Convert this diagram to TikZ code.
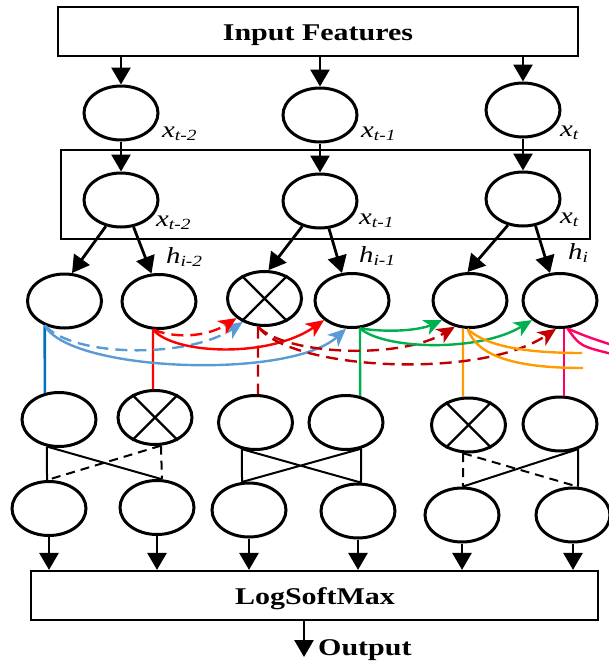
\documentclass[tikz,border=0pt]{standalone}
\usepackage{fontspec}
\setmainfont{Liberation Serif}
\newfontfamily\tms[FakeStretch=1.25]{Liberation Serif}
\usetikzlibrary{shapes.geometric,arrows.meta,calc}
\definecolor{bluev}{RGB}{0,112,192}
\definecolor{bluec}{RGB}{91,155,213}
\definecolor{redc}{RGB}{255,0,0}
\definecolor{dred}{RGB}{192,0,0}
\definecolor{greenc}{RGB}{0,176,80}
\definecolor{orangec}{RGB}{255,155,0}
\definecolor{pinkc}{RGB}{255,0,102}
\newcommand\subl[1]{\raisebox{-3pt}{\fontsize{15.5}{15.5}\selectfont #1}}
\begin{document}
\begin{tikzpicture}[x=1pt,y=-1pt,
  ell/.style={ellipse, draw, line width=3pt, minimum width=74pt, minimum height=54pt, inner sep=0pt},
  boxn/.style={draw, line width=2.2pt, inner sep=0pt},
  boxtxt/.style={font=\tms\fontsize{24}{24}\selectfont\bfseries, inner sep=0pt, anchor=base},
  lab/.style={font=\tms\fontsize{23}{23}\selectfont\itshape, inner sep=0pt, anchor=base west},
  arr/.style={line width=2.8pt, -{Triangle[length=17pt,width=19pt]}},
  carr/.style={line width=2.4pt, -{Stealth[length=18pt,width=16pt,inset=5pt]}},
  cl/.style={line width=2.4pt},
  dsh/.style={dash pattern=on 12pt off 7pt},
  crl/.style={line width=2pt},
  crd/.style={line width=2pt, dash pattern=on 9pt off 6pt},
  xl/.style={line width=2.2pt}
]
\useasboundingbox (0,0) rectangle (609,662);

% boxes
\node[boxn, minimum width=520pt, minimum height=49pt] (inp) at (318,31.5) {};
\node[boxtxt] (inpt) at (318,40.5) {Input Features};
\node[boxn, line width=2.6pt, minimum width=529pt, minimum height=89pt] (grp) at (325.3,194.5) {};
\node[boxn, minimum width=567pt, minimum height=49pt] (lsm) at (314.3,595.5) {};
\node[boxtxt] (lsmt) at (315,604) {LogSoftMax};
\node[boxtxt, anchor=base west] (out) at (318,655) {Output};

% row A
\node[ell] (A1) at (121,113) {};
\node[ell] (A2) at (320,115) {};
\node[ell] (A3) at (523,110) {};
% row B
\node[ell] (B1) at (121,200) {};
\node[ell] (B2) at (320,201) {};
\node[ell] (B3) at (523,199) {};
% row C
\node[ell] (C1) at (64.5,301) {};
\node[ell] (C2) at (159,301.5) {};
\node[ell] (C3) at (264.5,298.5) {};
\node[ell] (C4) at (352,300.5) {};
\node[ell] (C5) at (470,300.5) {};
\node[ell] (C6) at (560,300.5) {};
% row D
\node[ell] (D1) at (59,419.5) {};
\node[ell] (D2) at (155,417.5) {};
\node[ell] (D3) at (255.5,422.5) {};
\node[ell] (D4) at (346,422.5) {};
\node[ell] (D5) at (468.5,425) {};
\node[ell] (D6) at (560,424) {};
% row E
\node[ell] (E1) at (49,508.5) {};
\node[ell] (E2) at (157,507.5) {};
\node[ell] (E3) at (249,510) {};
\node[ell] (E4) at (358,511) {};
\node[ell] (E5) at (462,515) {};
\node[ell] (E6) at (573,515) {};

% crosses
\foreach \n in {C3,D2,D5}
  \draw[xl] (\n.45) -- (\n.225) (\n.135) -- (\n.315);

% labels
\node[lab] (la1) at (162,137) {x\subl{t-2}};
\node[lab] (la2) at (361,137) {x\subl{t-1}};
\node[lab] (la3) at (560,136) {x\subl{t}};
\node[lab] (lb1) at (156,226) {x\subl{t-2}};
\node[lab] (lb2) at (359,224) {x\subl{t-1}};
\node[lab] (lb3) at (560,223) {x\subl{t}};
\node[lab] (lh1) at (166,263) {h\subl{i-2}};
\node[lab] (lh2) at (359,262) {h\subl{i-1}};
\node[lab] (lh3) at (568,259) {h\subl{i}};

% black arrows
\foreach \n in {A1,A2,A3}
  \draw[arr] (inp.south -| \n) -- (\n.north);
\draw[arr] (A1.south) -- (B1.north);
\draw[arr] (A2.south) -- (B2.north);
\draw[arr] (A3.south) -- (B3.north);
\draw[arr] (B1.240) -- (C1.75);
\draw[arr] (B1.295) -- (C2.105);
\draw[arr] (B2.235) -- (C3.82);
\draw[arr] (B2.288) -- (C4.110);
\draw[arr] (B3.240) -- (C5.95);
\draw[arr] (B3.295) -- (C6.110);
\foreach \n in {E1,E2,E3,E4,E5,E6}
  \draw[arr] (\n.south) -- (\n.south |- lsm.north);
\coordinate (outtip) at (304,657);
\draw[arr] (lsm.south -| outtip) -- (outtip);

% coloured vertical lines C -> D
\draw[cl, bluev, line width=2.6pt] (C1.231) -- (D1.118);
\draw[cl, redc] (C2.258) -- (D2.94);
\draw[cl, dred, dsh] (C3.257) -- (D3.85);
\draw[cl, greenc] (C4.286) -- (D4.62);
\draw[cl, orangec] (C5.256) -- (D5.101);
\draw[cl, pinkc] (C6.278) -- (D6.82);

% coloured curves
\draw[carr, bluec, dsh] (C1.231) .. controls (75,358) and (190,358) .. (C3.227);
\draw[carr, bluec] (C1.231) .. controls (70,372) and (290,380) .. (C4.258);
\draw[carr, redc, dsh] (C2.258) .. controls (180,340) and (210,335) .. (C3.215);
\draw[carr, redc] (C2.258) .. controls (175,355) and (270,358) .. (C4.215);
\draw[carr, dred, dsh] (C3.257) .. controls (285,355) and (400,360) .. (C5.240);
\draw[carr, dred, dsh] (C3.257) .. controls (290,370) and (480,380) .. (C6.262);
\draw[carr, greenc] (C4.286) .. controls (390,333) and (420,330) .. (C5.215);
\draw[carr, greenc] (C4.286) .. controls (385,350) and (480,352) .. (C6.215);
\coordinate (oe1) at (582,353);
\coordinate (oe2) at (583,368);
\draw[cl, orangec] (C5.265) .. controls (485,345) and (520,353) .. (oe1);
\draw[cl, orangec] (C5.265) .. controls (478,358) and (520,368) .. (oe2);
\coordinate (pe1) at (612,345);
\coordinate (pe2) at (612,354);
\draw[cl, pinkc] (C6.285) .. controls (585,336) .. (pe1);
\draw[cl, pinkc] (C6.285) .. controls (580,346) .. (pe2);

% D -> E connections
\draw[crl] (D1.246) -- (E1.94) (D1.246) -- (E2.80);
\draw[crd] (D2.282) -- (E1.94) (D2.282) -- (E2.80);
\draw[crl] (D3.243) -- (E3.104) (D3.243) -- (E4.84)
           (D4.300) -- (E3.104) (D4.300) -- (E4.84);
\draw[crd] (D5.259) -- (E5.88) (D5.259) -- (E6.80);
\draw[crl] (D6.306) -- (E5.88) (D6.306) -- (E6.80);
\end{tikzpicture}
\end{document}
